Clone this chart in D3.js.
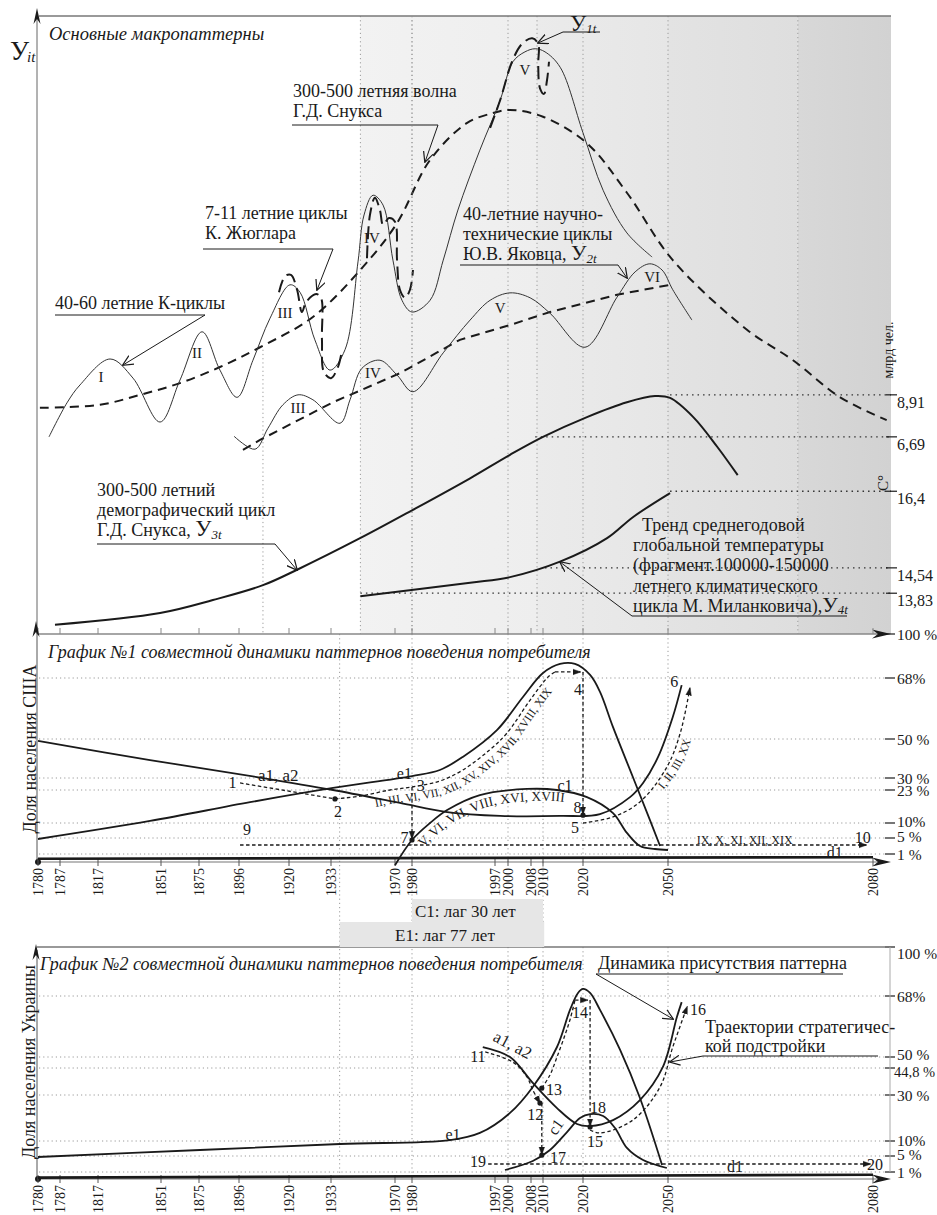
<!DOCTYPE html>
<html><head><meta charset="utf-8">
<script src="https://cdn.jsdelivr.net/npm/d3@7/dist/d3.min.js"></script>
<style>
html,body{margin:0;padding:0;background:#fff;}
svg{display:block;}
text{font-family:"Liberation Serif","Times New Roman",serif;fill:#1a1a1a;}
</style></head><body>
<svg id="chart" width="937" height="1215"></svg>
<script>
// ================= DATA =================
const yearTicks = [1780,1787,1817,1851,1875,1896,1920,1933,1970,1980,1997,2000,2008,2010,2020,2050,2080];

// --- top panel (time in years, level in relative index 0..100) ---
const kCycleWave = [[1783.5,31.9],[1792.5,37.4],[1802.8,40.3],[1823.5,44.5],[1835.9,41.4],[1850.5,34.3],[1863,41.1],[1876.6,48.9],[1886,42.7],[1895,38.3],[1902.7,44.3],[1910.9,51.1],[1920.3,56.5],[1923.4,55.3],[1928,47.6],[1932.7,42.7],[1941.1,46.0],[1948.6,60.2],[1952.1,67.8],[1957.3,71.0],[1963.1,69.4],[1968.8,60.5],[1974.1,54.0],[1980,52.1],[1983.7,54.0],[1986.4,60.5],[1989.4,68.6],[1993.9,78.3],[1998.2,86.4],[2001.7,92.6],[2005.9,94.2],[2008.7,94.7],[2010.5,94.2],[2014.3,91.7],[2020,81.1],[2027.1,71.8],[2035.5,64.9],[2044.4,61.0]];
const juglar1 = [[1915.2,55.3],[1918.1,57.9],[1920.6,58.1],[1922.5,55.7],[1924,52.1],[1925.3,53.7],[1928.4,55.0],[1929.9,54.4],[1930.2,47.6],[1930.8,42.4],[1933,41.4],[1937,43.2],[1939.4,46.0]];
const juglar2 = [[1953.8,60.8],[1955.5,67.8],[1958.4,70.6],[1961.3,68.6],[1963.1,66.2],[1966.5,67.3],[1970,66.7],[1971.2,60.5],[1972.9,55.7],[1975.9,54.4],[1978.8,55.7],[1980.2,58.9]];
const juglar3 = [[1996,81.9],[1998.2,86.4],[2001.4,92.6],[2004.9,95.5],[2008.2,96.4],[2009.2,95.5],[2009.2,92.1],[2009.5,88.3],[2010.25,87.4],[2011,89.6],[2011.5,92.6]];
const snooksWave = [[1780.6,36.6],[1818.1,37.1],[1839.7,38.7],[1863,40.6],[1886,43.2],[1906.1,46.4],[1927.4,51.3],[1951.5,59.4],[1971.2,66.5],[1983.7,76.7],[1991.3,82.7],[1996.6,84.3],[2000.7,84.8],[2010,83.7],[2021.4,79.4],[2035.5,71.4],[2050.7,60.5],[2061.6,49.2],[2068.3,44.3],[2075.2,38.3],[2082,34.6]];
const yakovetsCycles = [[1893.4,32.0],[1903.7,29.9],[1909.9,33.3],[1917.1,37.1],[1922.8,38.7],[1927.4,37.9],[1938.2,34.1],[1944,37.9],[1950.9,43.0],[1961.3,44.3],[1971.2,41.9],[1980.2,39.2],[1986.4,45.5],[1991.9,50.8],[1996,54.0],[2000.7,55.2],[2007.7,54.4],[2011.75,51.9],[2020.7,46.4],[2032,54.5],[2038.4,58.6],[2043.6,59.9],[2047.9,58.9],[2050.7,55.7],[2053.5,50.8]];
const yakovetsTrend = [[1897.9,29.8],[1906.1,31.4],[1934.2,37.5],[1972.9,42.2],[1989.8,47.6],[2000.7,50.0],[2011.75,52.1],[2032,54.9],[2050.3,56.5]];
const population = [[1785.4,1.5],[1850.5,3.4],[1882.3,5.5],[1907.5,7.9],[1922.5,10.4],[1949.8,15.5],[1980.2,20.1],[1991.9,25.2],[2000.7,29.0],[2010,31.9],[2021.4,35.1],[2035.5,37.5],[2045.4,38.5],[2050.3,38.2],[2053.7,35.1],[2057.2,30.3],[2060.2,25.7]];
const temperature = [[1950,6.1],[1991.9,8.3],[2000.7,9.2],[2014.25,11.7],[2028.5,15.5],[2037.6,18.9],[2050.3,22.8]];
const refLabels = ["8,91","6,69","16,4","14,54","13,83"];
const refLevels = [38.7,31.9,23.1,10.7,6.6];
const refStart  = [2050.3,2008.7,2050.3,2010.5,1950];
const kRoman = [["I",1818.6,41.6],["II",1873.7,45.5],["III",1918.1,51.9],["IV",1956.7,64.1],["V",2005.9,91.3]];
const yRoman = [["III",1922.8,36.6],["IV",1957.3,42.2],["V",1998.2,52.8],["VI",2044.4,57.8]];
const topGridYears = [1950,1980,2000,2009,2020,2050,2069];

// --- graph 1 (USA), share of population, % ---
const usaLevels = [1,5,10,23,30,50,68,100];
const usaLevelLabels = ["1 %","5 %","10%","23 %","30 %","50 %","68%","100 %"];
const usaA = [[1780,49.0],[1845.1,39.2],[1904.6,30.5],[1934.2,23],[1972.9,17.9],[1987.2,14.3],[1998.2,12.8],[2014.25,12.8],[2026,13.5],[2036.6,20.2],[2041.2,27.1],[2046.5,40.8],[2050.7,56.5],[2052,65.9]];
const usaE = [[1780,4.75],[1845.1,10.8],[1901.3,18.2],[1934.2,24.2],[1980,31.0],[1985.7,34.1],[1990.4,40.8],[1997.5,52.7],[2005.2,62.4],[2010,71.6],[2014.25,78.2],[2018,78.2],[2022.5,70.2],[2026,63.9],[2030.6,53.5],[2037.6,30.5],[2043.6,11.2],[2047.2,3]];
const usaC = [[1970,-0.4],[1980,4.5],[1983.7,10],[1987.2,15.1],[1993.9,21],[2006.6,23.6],[2013.5,23],[2021.4,20.2],[2030.6,13.9],[2035.5,6.7],[2040.1,3],[2045.4,2.25],[2050,2]];
const usaD = [[1780,0.4],[2080,0.6]];
const usaTraj12 = [[1896.5,27.1],[1935.3,19.5]];
const usaTraj234 = [[1935.3,19.5],[1949.8,20.6],[1967.1,23],[1980,24.75],[1985.7,28.25],[1990.4,34.1],[1995.9,44.4],[1999.8,51.8],[2007.7,61.5],[2011.25,68.7],[2013,72.4]];
const usaTraj4 = [[2013,72.4],[2019.3,72.4]];
const usaTraj45 = [[2020,72.4],[2020,13.6]];
const usaTraj56 = [[2020,10],[2030.6,12.4],[2040.1,18.3],[2049.6,35.6],[2051.8,51.8],[2053.2,65.0]];
const usaTraj37 = [[1980,24.75],[1980,4.9]];
const usaTraj910 = [[1896.5,3.25],[2079,3.25]];
const usaDots = [[1935.3,19.5],[1980,4.5],[2020,13.1]];
const usaLabels = [["1",1892.6,24.2],["2",1937,12.4],["3",1981.8,22.6],["4",2018.75,63],["5",2018,6.7],["6",2050.9,65.3],["7",1975.6,3.75],["8",2018.6,13.9],["9",1899.8,6],["10",2078.5,3.75],["e1",1975.5,29.6],["c1",2015.5,22.8],["d1",2074.4,0.5]];

// --- graph 2 (Ukraine), share of population, % ---
const ukrLevels = [1,5,10,30,44.8,50,68,100];
const ukrLevelLabels = ["1 %","5 %","10%","30 %","44,8 %","50 %","68%","100 %"];
const ukrE = [[1780,4.75],[1875.5,7],[1938.2,9],[1987.8,10.4],[1993.9,13.5],[2000.7,22.2],[2008.3,34.4],[2013.5,52.95],[2016.75,63.9],[2018.75,70],[2020,72.6],[2022.5,70],[2026,63.9],[2033.1,52.1],[2040.1,28.7],[2047.9,2.75]];
const ukrA = [[1994.5,52.95],[2000.7,50],[2008.3,36.6],[2013.5,24.3],[2018.5,17.4],[2022.5,16.5],[2030.6,19.1],[2040.1,27.8],[2048.2,45.3],[2051.3,61.8],[2052,66.2]];
const ukrC = [[1999.3,1.5],[2008.3,3.75],[2011.75,7],[2016,13.9],[2019.25,20],[2022.5,21.7],[2027.1,20.9],[2031.3,15.65],[2035.5,7.7],[2041.2,4],[2049.6,2]];
const ukrD = [[1780,0.2],[2080,0.6]];
const ukrTraj1112 = [[1995,51.5],[2001.7,47.6],[2006.6,39.9],[2008.3,32.7],[2009.5,26.5]];
const ukrTraj1217 = [[2009.8,26.5],[2009.8,5.6]];
const ukrTraj1314 = [[2009.8,33.8],[2011.75,41],[2013.5,50],[2015.5,56.5],[2016.75,61],[2018,66.8]];
const ukrTraj14 = [[2018,66.8],[2021.6,66.8]];
const ukrTraj1415 = [[2022.5,66.8],[2022.5,16.6]];
const ukrTraj1516 = [[2022.5,14.8],[2026,13.5],[2037.6,19.1],[2047.2,34.4],[2050.7,52.95],[2052.8,64.8]];
const ukrTraj1920 = [[1995.6,3],[2079.6,3]];
const ukrDots = [[2009.5,26.5],[2009.8,33.8],[2009.8,5.3],[2022.5,16.1]];
const ukrLabels = [["11",1993.5,47.6],["12",2008.7,19.1],["13",2012.75,30],["14",2019.25,61.5],["15",2024.2,8],["16",2054.4,62.4],["17",2013.75,3.25],["18",2025.3,22.2],["19",1993.5,2.25],["20",2080.3,1.5],["e1",1988.4,10.4],["d1",2059.8,1]];

const lagBoxes = [["C1: лаг 30 лет",1980,2010],["E1: лаг 77 лет",1938,2010.3]];

// ================= LAYOUT / SCALES =================
const tickX = [38,60,98,161,199,239,289,331,395,412,495,508,531,543,583,668,873];
const x = d3.scaleLinear().domain(yearTicks).range(tickX);
const yTop = d3.scaleLinear().domain([0,100]).range([634,16]);
const yUsa = d3.scaleLinear().domain([0,...usaLevels]).range([862,854,838,823,790,778,739,678,634]);
const yUkr = d3.scaleLinear().domain([0,...ukrLevels]).range([1179,1172,1156,1141,1095,1068,1057,996,947]);
const X0 = 37, XR = 891;
const INK = "#1a1a1a";

const svg = d3.select("#chart");
const defs = svg.append("defs");
function mk(id, closed, size){
  defs.append("marker").attr("id",id).attr("viewBox","0 0 10 10").attr("refX",9).attr("refY",5)
    .attr("markerWidth",size).attr("markerHeight",size).attr("markerUnits","userSpaceOnUse").attr("orient","auto")
    .append("path").attr("d", closed ? "M0,1.5 L10,5 L0,8.5 Z" : "M0,0.5 L9.5,5 L0,9.5")
    .attr("fill", closed ? INK : "none").attr("stroke", INK).attr("stroke-width", closed?0.5:1.1);
}
mk("open", false, 11); mk("solid", true, 8);

const cr = d3.curveCatmullRom.alpha(0.5);
const lineOf = (ys, curve=cr, dx=0, dy=0) => d3.line().x(d=>x(d[0])+dx).y(d=>ys(d[1])+dy).curve(curve);
function draw(pts, ys, o={}){
  return svg.append("path").attr("d", lineOf(ys, o.curve||cr)(pts)).attr("fill","none")
    .attr("stroke", o.stroke||INK).attr("stroke-width", o.w||1.6)
    .attr("stroke-dasharray", o.dash||null).attr("stroke-linecap","butt")
    .attr("marker-end", o.end?`url(#${o.end})`:null);
}
function txt(s, px, py, o={}){
  const t = svg.append("text").attr("x",px).attr("y",py).attr("font-size",o.fs||17)
    .attr("text-anchor",o.anchor||"start").text(s);
  if(o.italic) t.attr("font-style","italic");
  if(o.rot!=null) t.attr("transform",`rotate(${o.rot},${px},${py})`);
  if(o.db) t.attr("dominant-baseline",o.db);
  return t;
}
function hline(x1,x2,yy,o={}){ svg.append("line").attr("x1",x1).attr("x2",x2).attr("y1",yy).attr("y2",yy).attr("stroke",o.stroke||"#9a9a9a").attr("stroke-width",o.w||1).attr("stroke-dasharray",o.dash||"1.2,3"); }
function vline(xx,y1,y2,o={}){ svg.append("line").attr("x1",xx).attr("x2",xx).attr("y1",y1).attr("y2",y2).attr("stroke",o.stroke||"#9a9a9a").attr("stroke-width",o.w||1).attr("stroke-dasharray",o.dash||"1.2,3"); }
function leader(pts){ svg.append("path").attr("d", d3.line()(pts)).attr("fill","none").attr("stroke",INK).attr("stroke-width",1).attr("marker-end","url(#open)"); }
function arrowRight(xt, yy){ svg.append("path").attr("d",`M${xt},${yy} L${xt-19},${yy-4.5} L${xt-13},${yy} L${xt-19},${yy+4.5} Z`).attr("fill",INK); }
function arrowUp(xx, yt){ svg.append("path").attr("d",`M${xx},${yt} L${xx-3.5},${yt+16} L${xx},${yt+11} L${xx+3.5},${yt+16} Z`).attr("fill",INK); }

// ================= TOP PANEL =================
const shades = [[1950,2009,"#f2f2f2","#eeeeee"],[2009,2050,"#ebebeb","#e6e6e6"],[2050,2069,"#e3e3e3","#dedede"],[2069,null,"#d8d8d8","#d2d2d2"]];
shades.forEach((s,i)=>{
  const g = defs.append("linearGradient").attr("id","sh"+i);
  g.append("stop").attr("offset","0").attr("stop-color",s[2]);
  g.append("stop").attr("offset","1").attr("stop-color",s[3]);
  const x1 = x(s[0]), x2 = s[1]==null ? XR : x(s[1]);
  svg.append("rect").attr("x",x1).attr("y",yTop(100)).attr("width",x2-x1).attr("height",yTop(0)-yTop(100)).attr("fill",`url(#sh${i})`);
});
topGridYears.forEach(yr=>vline(x(yr), yTop(100), yTop(0)));
vline(x(1907.5), yTop(46), yTop(0));
refLevels.forEach((lv,i)=>{
  hline(x(refStart[i]), XR, yTop(lv), {stroke:"#333", dash:"1.5,4", w:1.3});
  svg.append("line").attr("x1",XR-5).attr("x2",XR+6).attr("y1",yTop(lv)).attr("y2",yTop(lv)).attr("stroke",INK).attr("stroke-width",1.2);
  txt(refLabels[i], XR+6, yTop(lv)+13, {fs:16});
});
txt("млрд чел.", XR+2, 350, {fs:14, rot:-90, anchor:"middle"});
txt("C°", XR-3, 483, {fs:15, rot:-90, anchor:"middle"});
svg.append("line").attr("x1",X0+2).attr("x2",XR).attr("y1",yTop(100)).attr("y2",yTop(100)).attr("stroke","#777").attr("stroke-width",1.3);
svg.append("line").attr("x1",X0).attr("x2",X0).attr("y1",yTop(0)).attr("y2",14).attr("stroke","#666").attr("stroke-width",1);
arrowUp(X0, 8);
draw(snooksWave, yTop, {w:2, dash:"9,6"});
draw(yakovetsTrend, yTop, {w:2, dash:"9,6", curve:d3.curveLinear});
draw(kCycleWave, yTop, {w:1, stroke:"#333"});
draw(yakovetsCycles, yTop, {w:1, stroke:"#333"});
[juglar1, juglar2, juglar3].forEach(j=>draw(j, yTop, {w:2, dash:"13,6"}));
draw(population, yTop, {w:2});
draw(temperature, yTop, {w:2});
kRoman.concat(yRoman).forEach(r=>txt(r[0], x(r[1]), yTop(r[2]), {fs:15, anchor:"middle", db:"central"}));
txt("Основные макропаттерны", 49, 40, {fs:18.5, italic:true});
txt("У", 10, 60, {fs:27});
txt("it", 27, 62, {fs:15, italic:true});
txt("300-500 летняя волна", 293, 97, {fs:18});
txt("Г.Д. Снукса", 293, 117, {fs:18});
leader([[292,125],[438,125],[425,162]]);
txt("7-11 летние циклы", 205, 219, {fs:18});
txt("К. Жюглара", 205, 239, {fs:18});
leader([[203,249],[333,249],[317,290]]);
txt("40-60 летние К-циклы", 55, 309, {fs:18});
leader([[55,315],[205,315],[123,365]]);
txt("40-летние научно-", 463, 220, {fs:18});
txt("технические циклы", 463, 240, {fs:18});
{ const t = txt("Ю.В. Яковца, ", 463, 260, {fs:18});
  t.append("tspan").attr("font-size",22).text("У");
  t.append("tspan").attr("font-size",13).attr("font-style","italic").attr("dy",3).text("2t"); }
leader([[460,265],[618,265],[627,278]]);
{ const t = txt("У", 570, 31, {fs:23});
  t.append("tspan").attr("font-size",13).attr("font-style","italic").attr("dy",2).text("1t"); }
leader([[600,32],[563,32],[538,43]]);
txt("300-500 летний", 97, 496, {fs:18});
txt("демографический цикл", 97, 516, {fs:18});
{ const t = txt("Г.Д. Снукса, ", 97, 536, {fs:18});
  t.append("tspan").attr("font-size",23).text("У");
  t.append("tspan").attr("font-size",13).attr("font-style","italic").attr("dy",3).text("3t"); }
leader([[97,544],[275,544],[297,570]]);
txt("Тренд среднегодовой", 642, 531, {fs:18});
txt("глобальной температуры", 633, 551, {fs:18});
txt("(фрагмент.100000-150000", 633, 571, {fs:18});
txt("летнего климатического", 633, 592, {fs:18});
{ const t = txt("цикла М. Миланковича),", 633, 612, {fs:18});
  t.append("tspan").attr("font-size",22).text("У");
  t.append("tspan").attr("font-size",13).attr("font-style","italic").attr("dy",2).text("4t"); }
leader([[847,616],[632,616],[560,562]]);

// ================= SHARED VERTICAL GRID =================
[1938,1980].forEach(yr=>vline(x(yr), yUsa(100), yUkr(0)));
vline(x(1980), yTop(100), yTop(0));
vline(x(2010), yUsa(0), yUkr(100));
[2000,2010,2020,2050].forEach(yr=>{ vline(x(yr), yUsa(100), yUsa(0)); vline(x(yr), yUkr(100), yUkr(0)); });

// ================= PANEL AXES =================
function panel(ys, levels, labels, yAxisTop, nudge){
  levels.forEach((lv,i)=>{
    if(lv<100) hline(X0+2, XR-4, ys(lv));
    svg.append("line").attr("x1",XR-6).attr("x2",XR+4).attr("y1",ys(lv)).attr("y2",ys(lv)).attr("stroke",INK).attr("stroke-width",1.2);
    const lab = labels[i];
    txt(lab, lab.length>5 ? XR+3 : XR+6, ys(lv) + (nudge[lab]||0), {fs: lab.length>5 ? 14.5 : 15.5, db:"central"});
  });
  const y0 = ys(0);
  svg.append("line").attr("x1",X0).attr("x2",X0).attr("y1",y0).attr("y2",yAxisTop+6).attr("stroke","#555").attr("stroke-width",1);
  arrowUp(X0-1, yAxisTop);
  svg.append("line").attr("x1",X0).attr("x2",XR-10).attr("y1",y0).attr("y2",y0).attr("stroke","#777").attr("stroke-width",1.2);
  arrowRight(XR, y0);
  svg.append("circle").attr("cx",X0+1).attr("cy",y0).attr("r",3).attr("fill",INK);
  yearTicks.forEach(yr=>{
    svg.append("line").attr("x1",x(yr)).attr("x2",x(yr)).attr("y1",y0-4).attr("y2",y0+4).attr("stroke","#555");
    txt(String(yr), x(yr)+5, y0+6, {fs:14, rot:-90, anchor:"end"});
  });
}
svg.append("line").attr("x1",X0).attr("x2",XR-10).attr("y1",yTop(0)).attr("y2",yTop(0)).attr("stroke","#888").attr("stroke-width",1.5);
arrowRight(XR, yTop(0));
yearTicks.forEach(yr=>svg.append("line").attr("x1",x(yr)).attr("x2",x(yr)).attr("y1",yTop(0)-6).attr("y2",yTop(0)).attr("stroke","#888"));

panel(yUsa, usaLevels, usaLevelLabels, 621, {"10%":-2, "5 %":-2});
panel(yUkr, ukrLevels, ukrLevelLabels, 944, {"50 %":-3, "44,8 %":4, "100 %":6, "10%":-1, "5 %":-2});
svg.append("line").attr("x1",X0).attr("x2",XR).attr("y1",yUkr(100)).attr("y2",yUkr(100)).attr("stroke","#777").attr("stroke-width",1.3);
svg.append("line").attr("x1",XR-1).attr("x2",XR-1).attr("y1",yUkr(100)).attr("y2",yUkr(1)).attr("stroke","#aaa").attr("stroke-width",1);

lagBoxes.forEach((b,i)=>{
  const y1 = i===0 ? 899 : 922, h = i===0 ? 23 : 25;
  svg.append("rect").attr("x",x(b[1])).attr("y",y1).attr("width",x(b[2])-x(b[1])).attr("height",h).attr("fill","#e6e6e6");
});
txt(lagBoxes[0][0], 415, 917, {fs:17});
txt(lagBoxes[1][0], 395, 941, {fs:17});

// ================= GRAPH 1 (USA) =================
txt("График №1 совместной динамики паттернов поведения потребителя", 48, 658, {fs:18, italic:true});
txt("Доля населения США", 36, 749, {fs:18, rot:-90, anchor:"middle"});
draw(usaD, yUsa, {w:2.6, curve:d3.curveLinear});
draw(usaA, yUsa, {w:1.8});
draw(usaE, yUsa, {w:1.8});
draw(usaC, yUsa, {w:1.8});
const dsh = "3.5,2.5";
draw(usaTraj12, yUsa, {w:1.3, dash:dsh, curve:d3.curveLinear});
draw(usaTraj234, yUsa, {w:1.3, dash:dsh});
draw(usaTraj4, yUsa, {w:1.3, dash:dsh, curve:d3.curveLinear, end:"solid"});
draw(usaTraj45, yUsa, {w:1.3, dash:dsh, curve:d3.curveLinear, end:"solid"});
draw(usaTraj56, yUsa, {w:1.3, dash:dsh, end:"solid"});
draw(usaTraj37, yUsa, {w:1.3, dash:dsh, curve:d3.curveLinear, end:"solid"});
draw(usaTraj910, yUsa, {w:1.3, dash:dsh, curve:d3.curveLinear, end:"solid"});
usaDots.forEach(d=>svg.append("circle").attr("cx",x(d[0])).attr("cy",yUsa(d[1])).attr("r",2.6).attr("fill",INK));
usaLabels.forEach(l=>txt(l[0], x(l[1]), yUsa(l[2]), {fs:16, anchor:"middle"}));
txt("a1, a2", x(1905.1), yUsa(28.25), {fs:17});
txt("IX, X, XI, XII, XIX", x(2054.2), yUsa(3.5), {fs:12});
function textAlong(id, pts, ys, dx, dy, s, fs, off=0){
  defs.append("path").attr("id",id).attr("d", lineOf(ys, cr, dx, dy)(pts));
  svg.append("text").attr("font-size",fs).append("textPath").attr("href","#"+id).attr("startOffset",off).text(s);
}
textAlong("tp1", usaTraj234.filter(d=>d[0]>=1949), yUsa, 6, 13, "II, III, VI, VII, XII, XV, XIV, XVII, XVIII, XIX", 11.5, 10);
textAlong("tp2", usaC.filter(d=>d[0]>=1980 && d[0]<=2022), yUsa, 7, 12, "V, VI, VII, VIII, XVI, XVIII", 13.5, 6);
textAlong("tp3", usaTraj56.filter(d=>d[0]>=2040), yUsa, 13, 0, "I, II, III, XX", 11.5, 16);

// ================= GRAPH 2 (UKRAINE) =================
txt("График №2 совместной динамики паттернов поведения потребителя", 40, 970, {fs:18, italic:true});
txt("Доля населения  Украины", 35, 1062, {fs:18, rot:-90, anchor:"middle"});
draw(ukrD, yUkr, {w:2.6, curve:d3.curveLinear});
draw(ukrE, yUkr, {w:1.8});
draw(ukrA, yUkr, {w:1.8});
draw(ukrC, yUkr, {w:1.8});
draw(ukrTraj1112, yUkr, {w:1.3, dash:dsh, end:"solid"});
draw(ukrTraj1217, yUkr, {w:1.3, dash:dsh, curve:d3.curveLinear, end:"solid"});
draw(ukrTraj1314, yUkr, {w:1.3, dash:dsh});
draw(ukrTraj14, yUkr, {w:1.3, dash:dsh, curve:d3.curveLinear, end:"solid"});
draw(ukrTraj1415, yUkr, {w:1.3, dash:dsh, curve:d3.curveLinear, end:"solid"});
draw(ukrTraj1516, yUkr, {w:1.3, dash:dsh, end:"solid"});
draw(ukrTraj1920, yUkr, {w:1.3, dash:dsh, curve:d3.curveLinear, end:"solid"});
ukrDots.forEach(d=>svg.append("circle").attr("cx",x(d[0])).attr("cy",yUkr(d[1])).attr("r",2.6).attr("fill",INK));
ukrLabels.forEach(l=>txt(l[0], x(l[1]), yUkr(l[2]), {fs:16, anchor:"middle"}));
txt("a1, a2", x(2000.7), yUkr(52.1), {fs:17, anchor:"middle", rot:28});
txt("c1", x(2014.25), yUkr(14.8), {fs:16, anchor:"middle", rot:-55});
txt("Динамика присутствия паттерна", 598, 969, {fs:18});
leader([[843,974],[596,974],[673,1019]]);
txt("Траектории стратегичес-", 705, 1033, {fs:18});
txt("кой подстройки", 705, 1052, {fs:18});
leader([[878,1056],[703,1056],[670,1062]]);
</script></body></html>
